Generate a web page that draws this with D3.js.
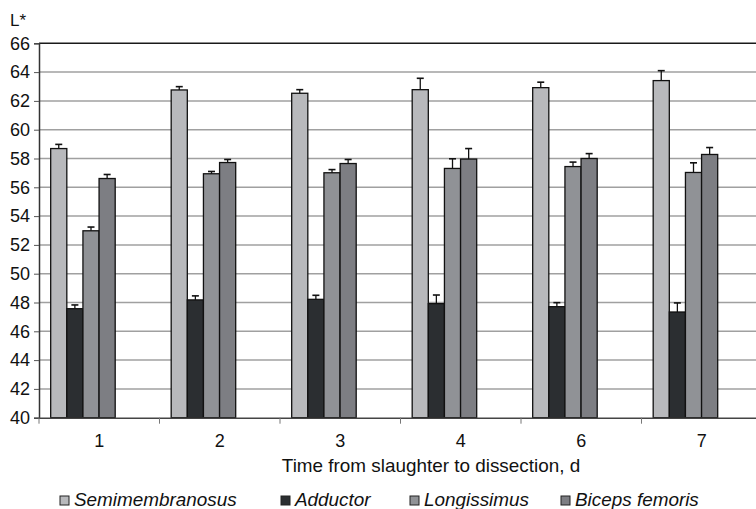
<!DOCTYPE html>
<html><head><meta charset="utf-8">
<script src="https://cdn.jsdelivr.net/npm/d3@7"></script>
<style>body{margin:0;background:#fff;}svg{display:block;font-family:"Liberation Sans",Arial,sans-serif;}</style>
</head><body>
<script>
const categories = ["1","2","3","4","6","7"];
const seriesNames = ["Semimembranosus","Adductor","Longissimus","Biceps femoris"];
const semimembranosus = [58.69,62.76,62.53,62.78,62.92,63.41];
const semimembranosusErr = [0.29,0.23,0.25,0.79,0.38,0.69];
const adductor = [47.57,48.18,48.22,47.92,47.71,47.34];
const adductorErr = [0.26,0.28,0.28,0.6,0.28,0.63];
const longissimus = [52.98,56.94,57.01,57.31,57.44,57.03];
const longissimusErr = [0.26,0.16,0.22,0.67,0.31,0.67];
const bicepsFemoris = [56.61,57.72,57.65,57.96,58.0,58.28];
const bicepsFemorisErr = [0.28,0.21,0.28,0.73,0.34,0.48];
const yTicks = [40,42,44,46,48,50,52,54,56,58,60,62,64,66];

(function(){
const values = [semimembranosus, adductor, longissimus, bicepsFemoris];
const errs = [semimembranosusErr, adductorErr, longissimusErr, bicepsFemorisErr];
const colors = ["#b8b9bc","#2b2e31","#909296","#7d7e83"];

const W = 756, H = 509;
const mLeft = 39, mRight = 762, mTop = 43.3, mBottom = 417.7;
const FS = 18;
const svg = d3.select("body").append("svg").attr("width", W).attr("height", H);

const x = d3.scaleBand().domain(categories).range([mLeft, mRight]).padding(0);
const bw = x.bandwidth();
const slots = d3.range(6);
const x1 = d3.scaleBand().domain(slots).range([bw*0.097, bw*0.9]).padding(0);
const y = d3.scaleLinear().domain([40,66]).range([mBottom, mTop]);

// gridlines
svg.append("g").selectAll("line").data(yTicks.filter(t => t > 40 && t < 66)).join("line")
  .attr("x1", mLeft).attr("x2", W).attr("y1", d => y(d)).attr("y2", d => y(d))
  .attr("stroke", "#a0a0a0").attr("stroke-width", 1.5);
svg.append("line").attr("x1", mLeft).attr("x2", W).attr("y1", y(66)).attr("y2", y(66))
  .attr("stroke", "#1a1a1a").attr("stroke-width", 1.5);

// bars
const data = [];
categories.forEach((c, i) => seriesNames.forEach((s, j) => data.push({c, j, v: values[j][i], e: errs[j][i]})));

const g = svg.append("g");
g.selectAll("rect").data(data).join("rect")
  .attr("x", d => x(d.c) + x1(d.j))
  .attr("width", x1.bandwidth())
  .attr("y", d => y(d.v))
  .attr("height", d => y(40) - y(d.v))
  .attr("fill", d => colors[d.j])
  .attr("stroke", "#111").attr("stroke-width", 1.3);

// error bars
const eg = svg.append("g").attr("stroke", "#111").attr("stroke-width", 1.3);
data.forEach(d => {
  const cx = x(d.c) + x1(d.j) + x1.bandwidth()/2;
  eg.append("line").attr("x1", cx).attr("x2", cx).attr("y1", y(d.v)).attr("y2", y(d.v + d.e));
  eg.append("line").attr("x1", cx-3.5).attr("x2", cx+3.5).attr("y1", y(d.v + d.e)).attr("y2", y(d.v + d.e)).attr("stroke-width", 1.6);
});

// y axis
const yAxis = d3.axisLeft(y).tickValues(yTicks).tickSize(5).tickPadding(4).tickFormat(d3.format("d"));
const ya = svg.append("g").attr("transform", `translate(${mLeft},0)`).call(yAxis);
ya.select(".domain").attr("stroke", "#333").attr("stroke-width", 1.5);
ya.selectAll(".tick line").attr("stroke", "#555");
ya.selectAll("text").attr("font-size", FS).attr("fill", "#111").attr("font-family", "Liberation Sans, Arial, sans-serif");

// x axis
const xAxis = d3.axisBottom(x).tickSize(0).tickPadding(17);
const xa = svg.append("g").attr("transform", `translate(0,${mBottom})`).call(xAxis);
xa.select(".domain").attr("stroke", "#444").attr("stroke-width", 1.5);
xa.selectAll("text").attr("font-size", FS).attr("fill", "#111").attr("font-family", "Liberation Sans, Arial, sans-serif");
svg.append("g").selectAll("line").data(categories).join("line")
  .attr("x1", d => x(d)).attr("x2", d => x(d)).attr("y1", mBottom).attr("y2", mBottom + 6)
  .attr("stroke", "#777").attr("stroke-width", 1);

// labels
svg.append("text").attr("x", 10).attr("y", 26).attr("font-size", 17).attr("fill", "#111").text("L*");
svg.append("text").attr("x", 431).attr("y", 472).attr("text-anchor", "middle").attr("font-size", FS)
  .attr("transform", "translate(431,0) scale(1.05,1) translate(-431,0)")
  .attr("fill", "#111").text("Time from slaughter to dissection, d");

// legend
const legX = [60, 281, 410, 561];
const lg = svg.append("g");
seriesNames.forEach((s, j) => {
  lg.append("rect").attr("x", legX[j]).attr("y", 496).attr("width", 9).attr("height", 9)
    .attr("fill", colors[j]).attr("stroke", "#222").attr("stroke-width", 1);
  const tx = legX[j] + 14;
  lg.append("text").attr("x", tx).attr("y", 506).attr("font-size", FS).attr("font-style", "italic")
    .attr("transform", `translate(${tx},0) scale(1.05,1) translate(${-tx},0)`)
    .attr("fill", "#111").text(s);
});
})();
</script>
</body></html>
